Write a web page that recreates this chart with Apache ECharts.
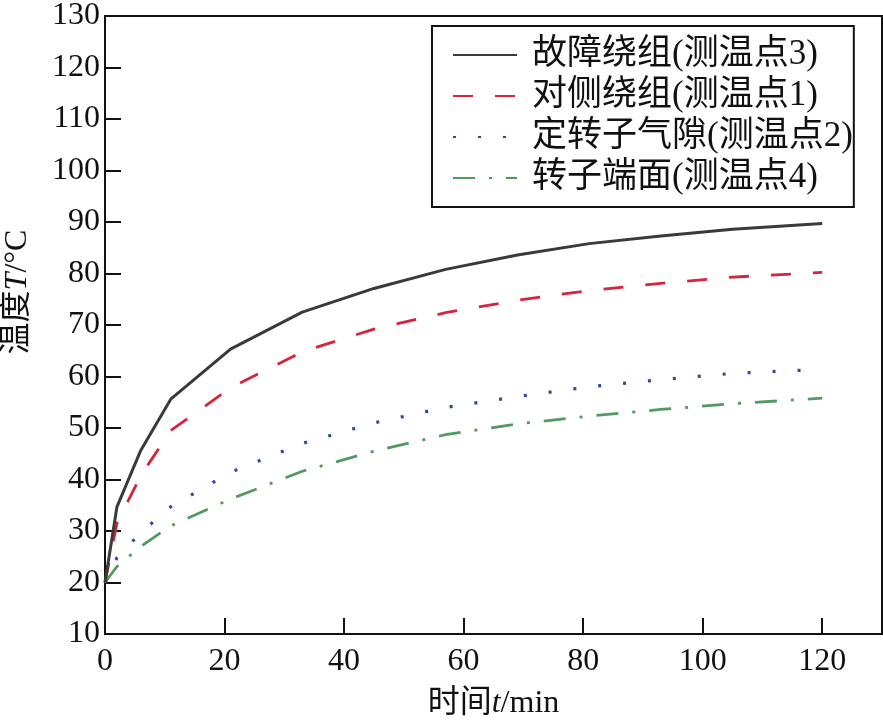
<!DOCTYPE html>
<html>
<head>
<meta charset="utf-8">
<script src="https://cdn.jsdelivr.net/npm/echarts@6/dist/echarts.min.js"></script>
<style>html,body{margin:0;padding:0;background:#fff;}#c{width:883px;height:726px;}</style>
</head>
<body>
<div id="c"></div>
<script>
const times = [0, 2, 6, 11, 21, 33, 45, 57, 69, 81, 93, 105, 120];
const seriesNames = ['故障绕组(测温点3)', '对侧绕组(测温点1)', '定转子气隙(测温点2)', '转子端面(测温点4)'];
const faultWinding = [20, 34.7, 45.7, 55.6, 65.3, 72.5, 77.1, 80.8, 83.6, 85.8, 87.3, 88.6, 89.7];
const oppositeWinding = [20, 31.5, 40.8, 49.5, 57.8, 64.8, 69.2, 72.4, 74.8, 76.7, 78.1, 79.3, 80.2];
const airGap = [20, 24.8, 29.7, 34.7, 41.4, 47.0, 51.0, 54.0, 56.1, 58.0, 59.4, 60.6, 61.4];
const rotorEnd = [20, 23.1, 27.0, 31.0, 36.2, 41.6, 45.5, 48.7, 50.8, 52.3, 53.6, 54.7, 55.8];
const xTicks = [0, 20, 40, 60, 80, 100, 120];
const yTicks = [10, 20, 30, 40, 50, 60, 70, 80, 90, 100, 110, 120, 130];

const FONT = '"Liberation Serif", "Noto Sans CJK SC", serif';
const pairs = v => times.map((t, i) => [t, v[i]]);

const chart = echarts.init(document.getElementById('c'), null, {renderer: 'canvas'});
const styles = [
  {color: '#3a3a3a', type: 'solid', width: 3},
  {color: '#d8233c', type: [20, 22], width: 2.8},
  {color: '#2b4c9c', type: [3, 22], width: 3.2},
  {color: '#529a62', type: [22, 14, 3, 14], width: 2.8}
];
const dataSets = [faultWinding, oppositeWinding, airGap, rotorEnd];

chart.setOption({
  animation: false,
  backgroundColor: '#fff',
  grid: {left: 105, top: 16, right: 1, bottom: 92, containLabel: false, outerBoundsMode: 'none',
    show: true, borderColor: '#111', borderWidth: 2, backgroundColor: 'transparent'},
  legend: {
    orient: 'vertical', left: 432, top: 26,
    borderColor: '#111', borderWidth: 2, backgroundColor: '#fff',
    padding: [9, 1, 9, 20],
    itemWidth: 64, itemHeight: 14, itemGap: 1,
    itemStyle: {opacity: 0},
    textStyle: {fontSize: 35, fontFamily: FONT, color: '#111', lineHeight: 40, padding: [0, 0, 0, 10]},
    data: seriesNames
  },
  xAxis: {
    type: 'value', min: 0, max: 130, interval: 20,
    name: '{a|时间}{i|t}{a|/min}', nameLocation: 'middle', nameGap: 54,
    nameTextStyle: {rich: {a: {fontSize: 32, fontFamily: FONT, color: '#111'}, i: {fontSize: 32, fontFamily: FONT, fontStyle: 'italic', color: '#111'}}},
    axisLine: {show: true, lineStyle: {color: '#111', width: 2}},
    axisTick: {show: true, inside: true, length: 16, lineStyle: {color: '#111', width: 2}},
    axisLabel: {fontSize: 32, fontFamily: FONT, color: '#111', margin: 12, showMaxLabel: false,
      formatter: v => xTicks.includes(v) ? String(v) : ''},
    splitLine: {show: false}
  },
  yAxis: {
    type: 'value', min: 10, max: 130, interval: 10,
    axisLine: {show: true, lineStyle: {color: '#111', width: 2}},
    axisTick: {show: true, inside: true, length: 16, lineStyle: {color: '#111', width: 2}},
    axisLabel: {fontSize: 32, fontFamily: FONT, color: '#111', margin: 5,
      formatter: v => yTicks.includes(v) ? String(v) : ''},
    splitLine: {show: false}
  },
  graphic: [{
    type: 'text', x: 18, y: 292, rotation: Math.PI / 2,
    style: {
      text: '{a|温度}{i|T}{a|/°C}', align: 'center', verticalAlign: 'middle',
      rich: {a: {fontSize: 32, fontFamily: FONT, fill: '#111'}, i: {fontSize: 32, fontFamily: FONT, fontStyle: 'italic', fill: '#111'}}
    }
  }],
  series: dataSets.map((d, i) => ({
    name: seriesNames[i], type: 'line', data: pairs(d), symbol: 'none', smooth: false,
    lineStyle: styles[i], itemStyle: {color: styles[i].color}, z: 4 - i
  }))
});
</script>
</body>
</html>
